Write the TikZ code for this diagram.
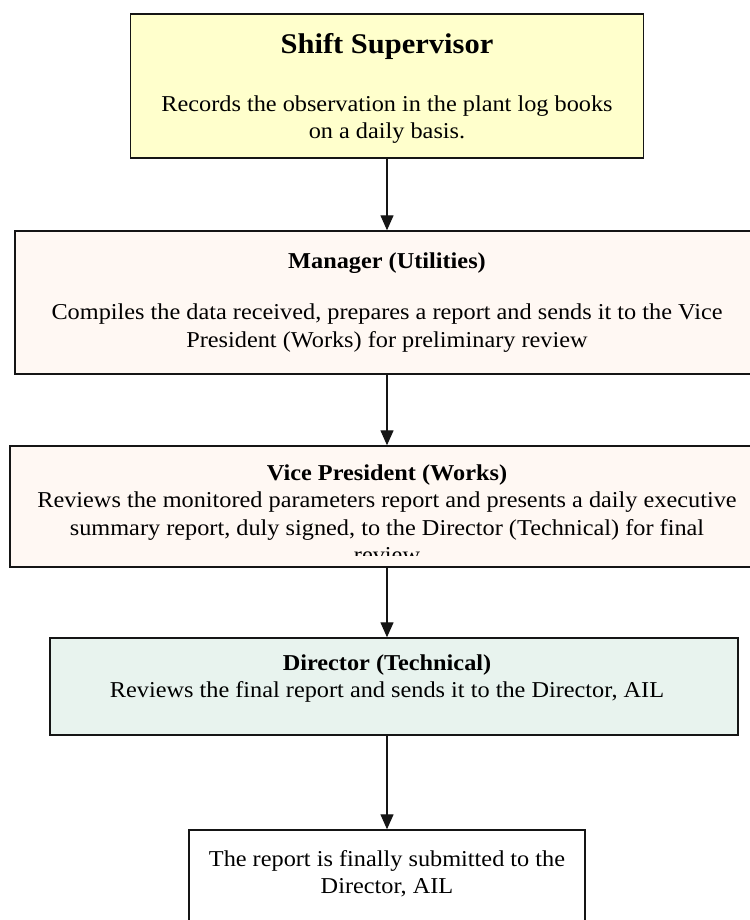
\documentclass[tikz,border=0pt]{standalone}
\usepackage{fontspec}
\setmainfont{Liberation Serif}[FakeStretch=1.07]
\usetikzlibrary{arrows.meta,positioning}
\definecolor{flowyellow}{HTML}{FFFFCC}
\definecolor{flowcream}{HTML}{FFF8F3}
\definecolor{flowmint}{HTML}{E8F3EE}
\definecolor{flowink}{HTML}{151515}
\tikzset{
  stage/.style={draw=flowink,line width=1.4pt,inner sep=0pt},
  txt/.style={align=center,inner sep=0pt,font=\fontsize{22.7}{27.5}\selectfont},
  arr/.style={-{Triangle[width=13pt,length=15pt]},line width=1.3pt,color=flowink},
}

\begin{document}
\begin{tikzpicture}[x=1pt,y=-1pt]
\useasboundingbox (0,0) rectangle (749,920);
% boxes
\node[stage,fill=flowyellow,minimum width=513pt,minimum height=144pt] (ss) at (387,86) {};
\node[stage,fill=flowcream,minimum width=744pt,minimum height=143pt] (mgr) at (387,302.5) {};
\node[stage,fill=flowcream,minimum width=754pt,minimum height=121pt] (vp) at (387,506.5) {};
\node[stage,fill=flowmint,minimum width=688pt,minimum height=97pt] (dt) at (394,686.5) {};
\node[stage,fill=white,minimum width=396pt,minimum height=110pt] (ail) at (387,885) {};
% texts
\node[txt,anchor=north] (sstxt) at ([yshift=-20pt]ss.north)
  {{\fontsize{28.5}{34}\selectfont\bfseries Shift Supervisor}\\[30pt]
   Records the observation in the plant log books\\on a daily basis.};
\node[txt,anchor=north] (mgrtxt) at ([yshift=-22pt]mgr.north)
  {\textbf{Manager (Utilities)}\\[24pt]
   Compiles the data received, prepares a report and sends it to the Vice\\
   President (Works) for preliminary review};
\begin{scope}
  \clip ([yshift=12pt]vp.south west) rectangle (vp.north east);
  \node[txt,anchor=north] (vptxt) at ([yshift=-19pt]vp.north)
    {\textbf{Vice President (Works)}\\
     Reviews the monitored parameters report and presents a daily executive\\
     summary report, duly signed, to the Director (Technical) for final\\
     review};
\end{scope}
\node[txt,anchor=north] (dttxt) at ([yshift=-17pt,xshift=-7pt]dt.north)
  {\textbf{Director (Technical)}\\
   Reviews the final report and sends it to the Director, AIL};
\node[txt,anchor=north] (ailtxt) at ([yshift=-21pt]ail.north)
  {The report is finally submitted to the\\Director, AIL};
% connectors
\draw[arr] (ss.south) -- (mgr.north);
\draw[arr] (mgr.south) -- (vp.north);
\draw[arr] (vp.south) -- (vp.south |- dt.north);
\draw[arr] (vp.south |- dt.south) -- (ail.north);
\end{tikzpicture}
\end{document}
